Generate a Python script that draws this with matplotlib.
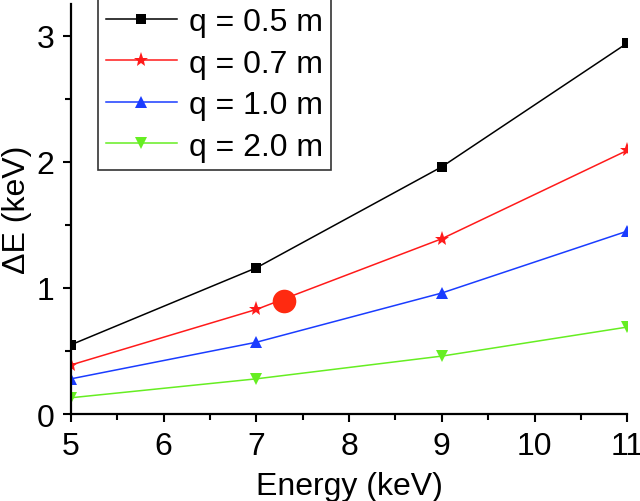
import numpy as np
import matplotlib.pyplot as plt
from matplotlib.ticker import MultipleLocator

plt.rcParams['font.family'] = ['Liberation Sans', 'DejaVu Sans']

# data
energy = [5, 7, 9, 11]
de_05 = [0.55, 1.16, 1.96, 2.94]
de_07 = [0.39, 0.83, 1.39, 2.09]
de_10 = [0.28, 0.57, 0.96, 1.45]
de_20 = [0.13, 0.28, 0.46, 0.69]
labels = ['q = 0.5 m', 'q = 0.7 m', 'q = 1.0 m', 'q = 2.0 m']
spot_x = [7.3]
spot_y = [0.9]

fig = plt.figure(figsize=(6.4, 5.02), dpi=100)
ax = fig.add_axes([0.111, 0.173, 0.869, 0.817])

series = [de_05, de_07, de_10, de_20]
colors = ['black', '#ff1a1a', '#1a3cff', '#66ee22']
markers = ['s', '*', '^', 'v']
sizes = [7, 11, 8.5, 8.5]
for ys, c, m, s, lab in zip(series, colors, markers, sizes, labels):
    ax.plot(energy, ys, color=c, marker=m, markersize=s, lw=1.1,
            markeredgewidth=0, label=lab)

ax.plot(spot_x, spot_y, 'o', color='#ff2a10', markersize=17, markeredgewidth=0)

ax.set_xlim(5, 11)
ax.set_ylim(0, 3.25)
ax.xaxis.set_major_locator(MultipleLocator(1))
ax.xaxis.set_minor_locator(MultipleLocator(0.5))
ax.yaxis.set_major_locator(MultipleLocator(1))
ax.yaxis.set_minor_locator(MultipleLocator(0.5))

for side in ['top', 'right']:
    ax.spines[side].set_visible(False)
for side in ['left', 'bottom']:
    ax.spines[side].set_linewidth(1.6)

ax.tick_params(which='major', direction='out', length=6, width=1.5, labelsize=23, pad=6)
ax.tick_params(which='minor', direction='out', length=4, width=1.5)

ax.set_xlabel('Energy (keV)', fontsize=23, labelpad=7)
ax.set_ylabel('\u0394E (keV)', fontsize=23, labelpad=3)

leg = ax.legend(loc='upper left', bbox_to_anchor=(0.049, 1.012), fontsize=23,
                frameon=True, fancybox=False, edgecolor='black', handlelength=2.2,
                handletextpad=0.4, labelspacing=0.36, borderpad=0.25,
                borderaxespad=0)
leg.get_frame().set_linewidth(1.2)

fig.savefig('out.png', dpi=100)
